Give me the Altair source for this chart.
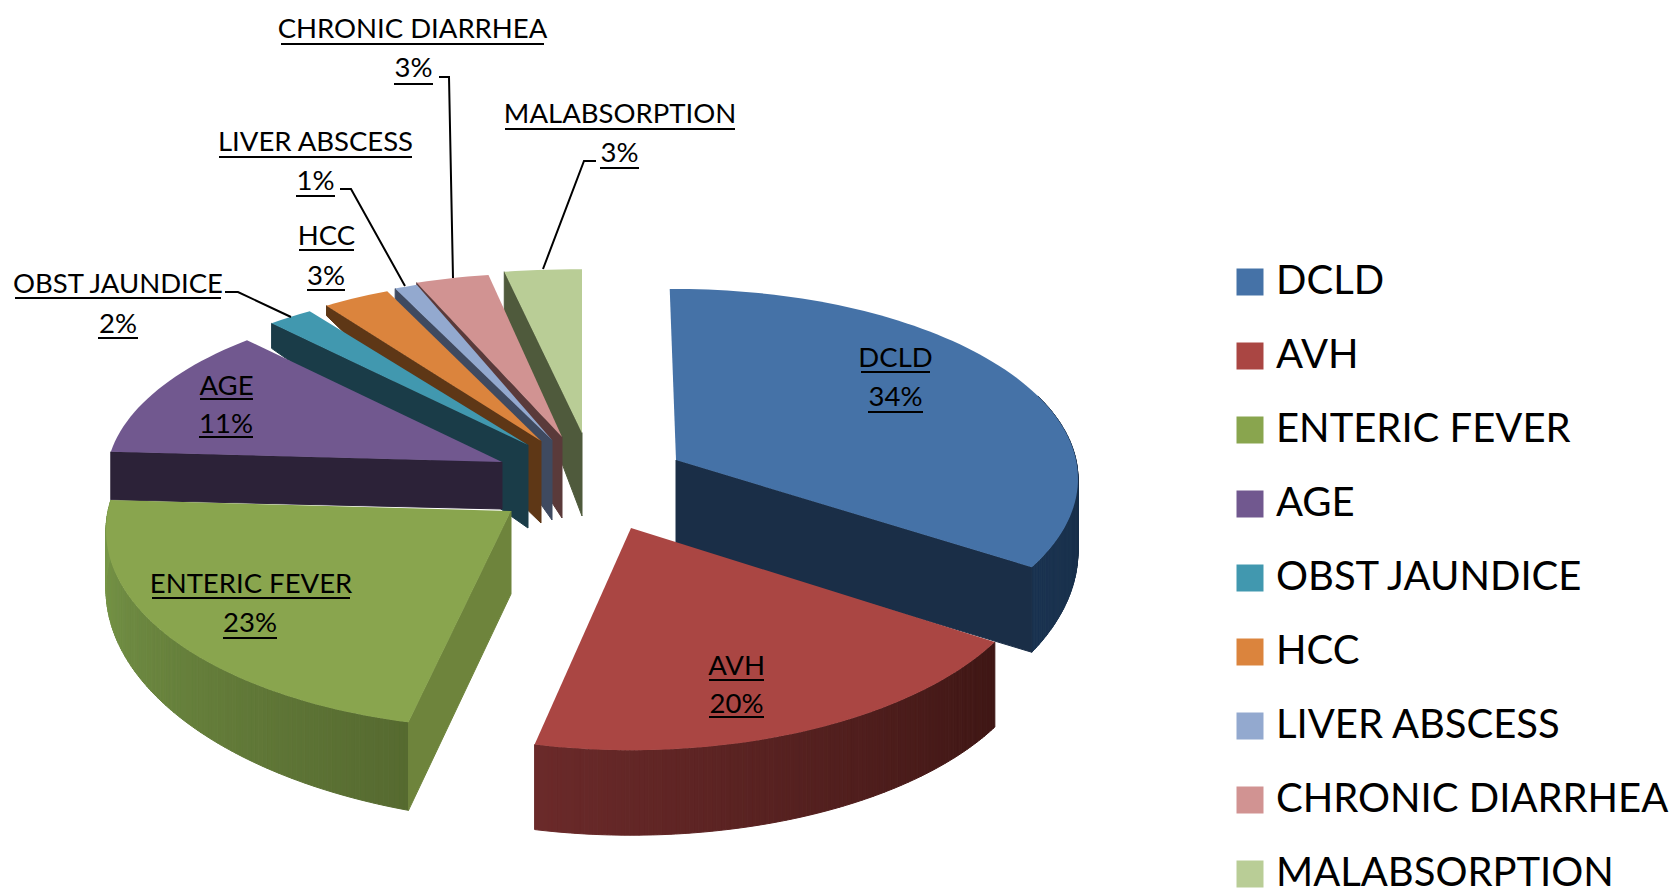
import math
import altair as alt
import pandas as pd

CATEGORIES = ["DCLD", "AVH", "ENTERIC FEVER", "AGE", "OBST JAUNDICE", "HCC",
              "LIVER ABSCESS", "CHRONIC DIARRHEA", "MALABSORPTION"]
PERCENTS = [34, 20, 23, 11, 2, 3, 1, 3, 3]
TOP_COLORS = ["#4572A7", "#AA4643", "#89A54E", "#71588F", "#4198AF", "#DB843D",
              "#93A9CF", "#D19392", "#B9CD96"]
WALL_COLORS = ["#1A2E47", "#6B2A2A", "#6E843C", "#2C2238", "#1A3C48", "#5E3716",
               "#3F4A60", "#5A3A3A", "#4F5A3C"]
RIM_FROM = {"DCLD": "#1A2E47", "AVH": "#6B2A2A", "ENTERIC FEVER": "#566A30"}
RIM_TO = {"DCLD": "#1A3350", "AVH": "#3F1715", "ENTERIC FEVER": "#7A9A4A"}

# exploded-slice geometry (page pixels)
APEX_X = [676, 631, 511, 502, 528, 541, 552, 562, 582]
APEX_Y = [460, 528, 511, 462, 445, 441, 440, 437, 433]
RADIUS_X = [400, 409, 403, 394, 404, 397, 405, 435, 460]
RADIUS_Y = [190, 202, 198, 183, 180, 182, 184, 183, 182]
DEPTH_APEX = [85, 85, 83, 47, 83, 82, 80, 81, 83]
DEPTH_RIM = [85, 85, 88, 48, 25, 10, 10, 12, 40]
SHIFT_START = [-1, 0, -1, -4, 0, 0, 0, 0, 0]
SHIFT_END = [0, -2, -4, -1, 0, 0, 0, 0, 0]
PERSPECTIVE = 0.1
OFFSET = 8  # page margin

starts, acc = [], 0
for p in PERCENTS:
    starts.append(acc * 3.6)
    acc += p


def rim(i, deg):
    a0, a1 = starts[i], starts[i] + PERCENTS[i] * 3.6
    f = (deg - a0) / (a1 - a0)
    t = math.radians(deg + SHIFT_START[i] * (1 - f) + SHIFT_END[i] * f)
    s = 1 - PERSPECTIVE * math.cos(t)
    return (APEX_X[i] + RADIUS_X[i] * math.sin(t) * s - OFFSET,
            APEX_Y[i] - RADIUS_Y[i] * math.cos(t) * s - OFFSET)


def feature(coords, **props):
    ring = [list(c) for c in coords]
    ring.append(ring[0])
    return {"type": "Feature", "properties": props,
            "geometry": {"type": "Polygon", "coordinates": [ring]}}


def mix(a, b, f):
    ca = [int(a[k:k + 2], 16) for k in (1, 3, 5)]
    cb = [int(b[k:k + 2], 16) for k in (1, 3, 5)]
    return "#%02x%02x%02x" % tuple(round(x + (y - x) * f) for x, y in zip(ca, cb))


tops, walls = [], []


def radial_wall(i, deg, d_rim):
    ax, ay = APEX_X[i] - OFFSET, APEX_Y[i] - OFFSET
    rx, ry = rim(i, deg)
    return feature([(ax, ay), (rx, ry), (rx, ry + d_rim), (ax, ay + DEPTH_APEX[i])],
                   fill=WALL_COLORS[i])


def rim_walls(i, a0, a1, d0, d1, col0, col1, n=120):
    out = []
    for k in range(n):
        f0, f1 = k / n, (k + 1) / n
        t0, t1 = a0 + (a1 - a0) * f0, a0 + (a1 - a0) * f1
        x0, y0 = rim(i, t0)
        x1, y1 = rim(i, t1)
        e0, e1 = d0 + (d1 - d0) * f0, d0 + (d1 - d0) * f1
        out.append(feature([(x0, y0), (x1, y1), (x1, y1 + e1), (x0, y0 + e0)],
                           fill=mix(col0, col1, f0)))
    return out


# back slices first, then the big front ones
for i in [8, 7, 6, 5, 4, 3]:
    walls.append(radial_wall(i, starts[i], DEPTH_RIM[i]))
end0 = starts[0] + PERCENTS[0] * 3.6
walls += rim_walls(0, 70, end0, 60, 85, RIM_FROM["DCLD"], RIM_TO["DCLD"])
walls.append(radial_wall(0, end0, DEPTH_RIM[0]))
walls += rim_walls(2, starts[2], starts[3], 88, 55, RIM_FROM["ENTERIC FEVER"], RIM_TO["ENTERIC FEVER"])
walls.append(radial_wall(2, starts[2], DEPTH_RIM[2]))
walls += rim_walls(1, starts[1], starts[2], 85, 85, RIM_TO["AVH"], RIM_FROM["AVH"])

for i, name in enumerate(CATEGORIES):
    a0, a1 = starts[i], starts[i] + PERCENTS[i] * 3.6
    n = max(4, int((a1 - a0) / 1.5))
    pts = [(APEX_X[i] - OFFSET, APEX_Y[i] - OFFSET)]
    pts += [rim(i, a0 + (a1 - a0) * k / n) for k in range(n + 1)]
    tops.append(feature(pts, name=name))

LABEL_TEXT = ["CHRONIC DIARRHEA", "3%", "MALABSORPTION", "3%", "LIVER ABSCESS", "1%", "HCC", "3%",
              "OBST JAUNDICE", "2%", "ENTERIC FEVER", "23%", "DCLD", "34%", "AVH", "20%", "AGE", "11%"]
LABEL_X0 = [281, 394, 505, 600, 219, 296, 299, 307, 15, 98, 152, 223, 861, 868, 709, 709, 200, 199]
LABEL_X1 = [544, 433, 735, 639, 412, 335, 354, 345, 221, 138, 350, 277, 930, 923, 764, 764, 253, 253]
LABEL_BASE = [38, 77, 123, 162, 151, 190, 245, 285, 293, 333, 593, 632, 367, 406, 675, 713, 395, 433]
LABEL_RULE = [44, 84, 129, 168, 157, 196, 250, 290, 298, 338, 598, 638, 372, 412, 680, 717, 399, 437]

labels = pd.DataFrame({
    "text": LABEL_TEXT,
    "x0": [v - OFFSET for v in LABEL_X0],
    "x1": [v - OFFSET for v in LABEL_X1],
    "xm": [(a + b) / 2 - OFFSET for a, b in zip(LABEL_X0, LABEL_X1)],
    "base": [v - OFFSET for v in LABEL_BASE],
    "rule": [v - OFFSET for v in LABEL_RULE],
})

LEADERS = {
    "OBST JAUNDICE": [(225, 292), (238, 292), (291, 317)],
    "LIVER ABSCESS": [(340, 189), (351, 189), (405, 286)],
    "CHRONIC DIARRHEA": [(439, 77), (449, 77), (453, 278)],
    "MALABSORPTION": [(596, 161), (584, 161), (543, 269)],
}
leaders = pd.DataFrame([
    {"leader": k, "step": j, "x": p[0] - OFFSET, "y": p[1] - OFFSET}
    for k, v in LEADERS.items() for j, p in enumerate(v)
])

projection = alt.Projection(type="identity", scale=1, translate=[0, 0])


def shapes(features):
    return alt.InlineData(values={"type": "FeatureCollection", "features": features},
                          format=alt.DataFormat(property="features", type="json"))


wall_layer = alt.Chart(shapes(walls)).mark_geoshape(strokeWidth=1).encode(
    fill=alt.Fill("properties.fill:N", scale=None, legend=None),
    stroke=alt.Stroke("properties.fill:N", scale=None, legend=None),
).project(**projection.to_dict())

top_layer = alt.Chart(shapes(tops)).mark_geoshape(strokeWidth=0).encode(
    fill=alt.Fill(
        "properties.name:N",
        scale=alt.Scale(domain=CATEGORIES, range=TOP_COLORS),
        legend=alt.Legend(
            orient="none", legendX=1222, legendY=254, title=None,
            symbolType="square", symbolSize=729, symbolStrokeWidth=0, symbolOpacity=1,
            labelFont="Lato", labelFontSize=40, labelColor="#000000", labelOffset=6,
            labelLimit=600, rowPadding=34, padding=0,
        ),
    ),
).project(**projection.to_dict())

px = alt.Scale(domain=[0, 1661], range=[0, 1661])
py = alt.Scale(domain=[0, 884], range=[0, 884])

leader_layer = alt.Chart(leaders).mark_line(color="#000000", strokeWidth=2).encode(
    x=alt.X("x:Q", scale=px, axis=None),
    y=alt.Y("y:Q", scale=py, axis=None),
    detail="leader:N",
    order="step:Q",
)
text_layer = alt.Chart(labels).mark_text(
    font="Lato", fontSize=27.5, align="center", baseline="alphabetic", color="#000000"
).encode(
    x=alt.X("xm:Q", scale=px, axis=None),
    y=alt.Y("base:Q", scale=py, axis=None),
    text="text:N",
)
rule_layer = alt.Chart(labels).mark_rule(color="#000000", strokeWidth=2).encode(
    x=alt.X("x0:Q", scale=px, axis=None),
    x2="x1:Q",
    y=alt.Y("rule:Q", scale=py, axis=None),
)

chart = alt.layer(wall_layer, top_layer, leader_layer, rule_layer, text_layer).resolve_scale(
    fill="independent", stroke="independent"
).properties(
    width=1661, height=884, padding=0, autosize=alt.AutoSizeParams(type="none"),
    background="#ffffff",
).configure_view(stroke=None)

chart.save("out.html", embed_options={"renderer": "svg", "actions": False})
